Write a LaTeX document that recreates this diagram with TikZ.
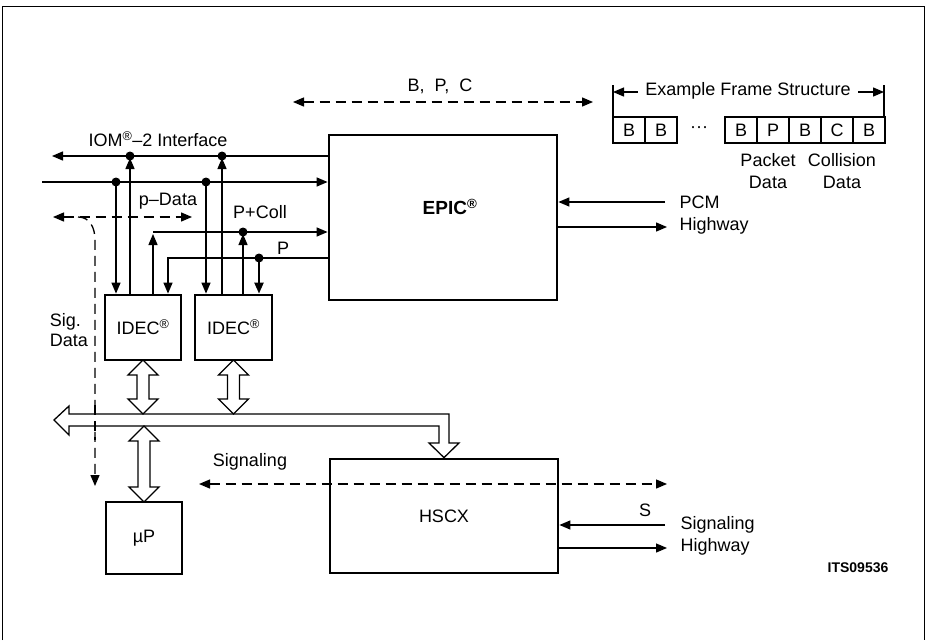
\documentclass[tikz,border=0pt]{standalone}
\usepackage{fontspec}
\setmainfont{Liberation Sans}
\usetikzlibrary{arrows.meta}
\newcommand{\hdblarrow}[3]{%
  \draw[hollow] (#1,#2) -- (#1+15,#2+15) -- (#1+6,#2+15) -- (#1+6,#3-15) -- (#1+15,#3-15) -- (#1,#3)
     -- (#1-15,#3-15) -- (#1-6,#3-15) -- (#1-6,#2+15) -- (#1-15,#2+15) -- cycle;}
\begin{document}
\begin{tikzpicture}[x=1pt,y=-1pt,
  font=\fontsize{18}{20}\selectfont,
  thinl/.style={line width=1.3pt},
  arr/.style={line width=1.3pt,-{Triangle[length=11pt,width=9pt]}},
  darr/.style={line width=1.3pt,dash pattern=on 10pt off 6pt,{Triangle[length=11pt,width=9pt]}-{Triangle[length=11pt,width=9pt]}},
  dsharr/.style={line width=1.3pt,dash pattern=on 10pt off 6pt,-{Triangle[length=11pt,width=9pt]}},
  box/.style={draw,line width=2.8pt,inner sep=0pt},
  dot/.style={circle,fill,inner sep=0pt,minimum size=9pt},
  fbox/.style={draw,line width=2.2pt,minimum width=32pt,minimum height=26pt,inner sep=0pt},
  hollow/.style={draw,line width=1.3pt,fill=white,line join=miter}
]
\useasboundingbox (0,0) rectangle (929,640);
\draw[line width=1pt] (2,640) -- (2,6) -- (924,6) -- (924,640);

% boxes
\node[box,minimum width=228pt,minimum height=165pt] (epic) at (443,217.5) {};
\node[font=\fontsize{19}{21}\selectfont\bfseries] (epiclbl) at (450,207) {EPIC\textsuperscript{®}};
\node[box,minimum width=76pt,minimum height=65pt] (idec1) at (143,327.5) {IDEC\textsuperscript{®}};
\node[box,minimum width=77pt,minimum height=65pt] (idec2) at (233.5,327.5) {IDEC\textsuperscript{®}};
\node[box,minimum width=76pt,minimum height=72pt] (up) at (144,538) {µP};
\node[box,minimum width=228pt,minimum height=114pt] (hscx) at (444,516) {HSCX};

% IOM lines
\coordinate (iomL) at (52,156);
\coordinate (l2L) at (42,182);
\coordinate (d1) at (130,156);
\coordinate (d2) at (222,156);
\coordinate (d3) at (116,182);
\coordinate (d4) at (206,182);
\draw[arr] (epic.west |- iomL) -- (iomL);
\draw[arr] (l2L) -- (l2L -| epic.west);
\draw[arr,shorten >=2pt] (idec1.north -| d1) -- (d1);
\draw[arr,shorten >=2pt] (idec2.north -| d2) -- (d2);
\draw[arr] (d3) -- (idec1.north -| d3);
\draw[arr] (d4) -- (idec2.north -| d4);

% P+Coll
\coordinate (pc) at (153,232);
\coordinate (d5) at (243,232);
\draw[arr,shorten >=2pt] (idec1.north -| pc) -- (pc);
\draw[arr] (pc) -- (pc -| epic.west);
\draw[arr,shorten >=2pt] (idec2.north -| d5) -- (d5);

% P
\coordinate (pl) at (168,258);
\coordinate (d6) at (259,258);
\draw[arr] (epic.west |- pl) -- (pl) -- (idec1.north -| pl);
\draw[arr,line width=2.2pt] (d6) -- (idec2.north -| d6);

\foreach \d in {d1,d2,d3,d4,d5,d6} \node[dot] at (\d) {};

% p-Data and Sig. Data
\coordinate (pdL) at (53,217);
\coordinate (pdR) at (192,217);
\draw[darr] (pdL) -- (pdR);
\coordinate (sg0) at (78,217);
\coordinate (sg1) at (95,240);
\coordinate (sg2) at (95,486);
\draw[dsharr] (sg0) .. controls (90,217) and (95,228) .. (sg1) -- (sg2);

% bus
\draw[hollow] (54,420) -- (69,406) -- (69,414) -- (449,414) -- (449,443) -- (459,443) -- (hscx.north)
  -- (429,443) -- (439,443) -- (439,426) -- (69,426) -- (69,435) -- cycle;
\draw[line width=1.3pt,dash pattern=on 10pt off 6pt] (95,405) -- (95,440);
\hdblarrow{143}{360}{414}
\hdblarrow{233.5}{360}{414}
\hdblarrow{144}{426}{502}

% B,P,C
\coordinate (bpcL) at (293,102);
\coordinate (bpcR) at (593,102);
\draw[darr] (bpcL) -- (bpcR);
\node (bpc) at (440,86) {B,\ \ P,\ \ C};

% PCM
\coordinate (pcmIn) at (665,202);
\coordinate (pcmOut) at (667,227);
\draw[arr] (pcmIn) -- (pcmIn -| epic.east);
\draw[arr] (epic.east |- pcmOut) -- (pcmOut);
\node[anchor=west] (pcm) at (676,202) {PCM};
\node[anchor=west] (pcmhw) at (676,226) {Highway};

% Signaling
\coordinate (sgL) at (199,484);
\coordinate (sgR) at (667,484);
\draw[darr] (sgL) -- (sgR);
\node (sigl) at (250,462) {Signaling};
\coordinate (sIn) at (665,525);
\coordinate (sOut) at (667,548);
\draw[arr] (sIn) -- (sIn -| hscx.east);
\draw[arr] (hscx.east |- sOut) -- (sOut);
\node (s) at (645,510) {S};
\node[anchor=west] (shw1) at (677,525) {Signaling};
\node[anchor=west] (shw2) at (677,547) {Highway};

% labels
\node (iom) at (158,139) {IOM\textsuperscript{®}–2 Interface};
\node (pdata) at (168,201) {p–Data};
\node (pcoll) at (260,212) {P+Coll};
\node (plbl) at (283,248) {P};
\node[anchor=east,align=left,inner sep=0pt] (sigd) at (88,330) {Sig.\\Data};
\node[font=\fontsize{14}{16}\selectfont\bfseries] (its) at (858,568) {ITS09536};

% frame structure
\node[fbox] (f1) at (629,130) {B};
\node[fbox] (f2) at (661,130) {B};
\node (fdots) at (699,130) {···};
\node[fbox] (f3) at (741,130) {B};
\node[fbox] (f4) at (773,130) {P};
\node[fbox] (f5) at (805,130) {B};
\node[fbox] (f6) at (837,130) {C};
\node[fbox] (f7) at (869,130) {B};
\coordinate (brL) at (613,85);
\coordinate (brR) at (884,85);
\draw[thinl] (brL) -- (brL |- f1.north);
\draw[thinl] (brR) -- (brR |- f7.north);
\node (fst) at (748,91) {Example Frame Structure};
\draw[arr] (fst.west) ++(-4,1) -- (brL |- 0,92);
\draw[arr] (fst.east) ++(4,1) -- (brR |- 0,92);
\node (pk) at (768,160) {Packet};
\node (pkd) at (768,182) {Data};
\node (col) at (842,160) {Collision};
\node (cold) at (842,182) {Data};
\end{tikzpicture}
\end{document}
